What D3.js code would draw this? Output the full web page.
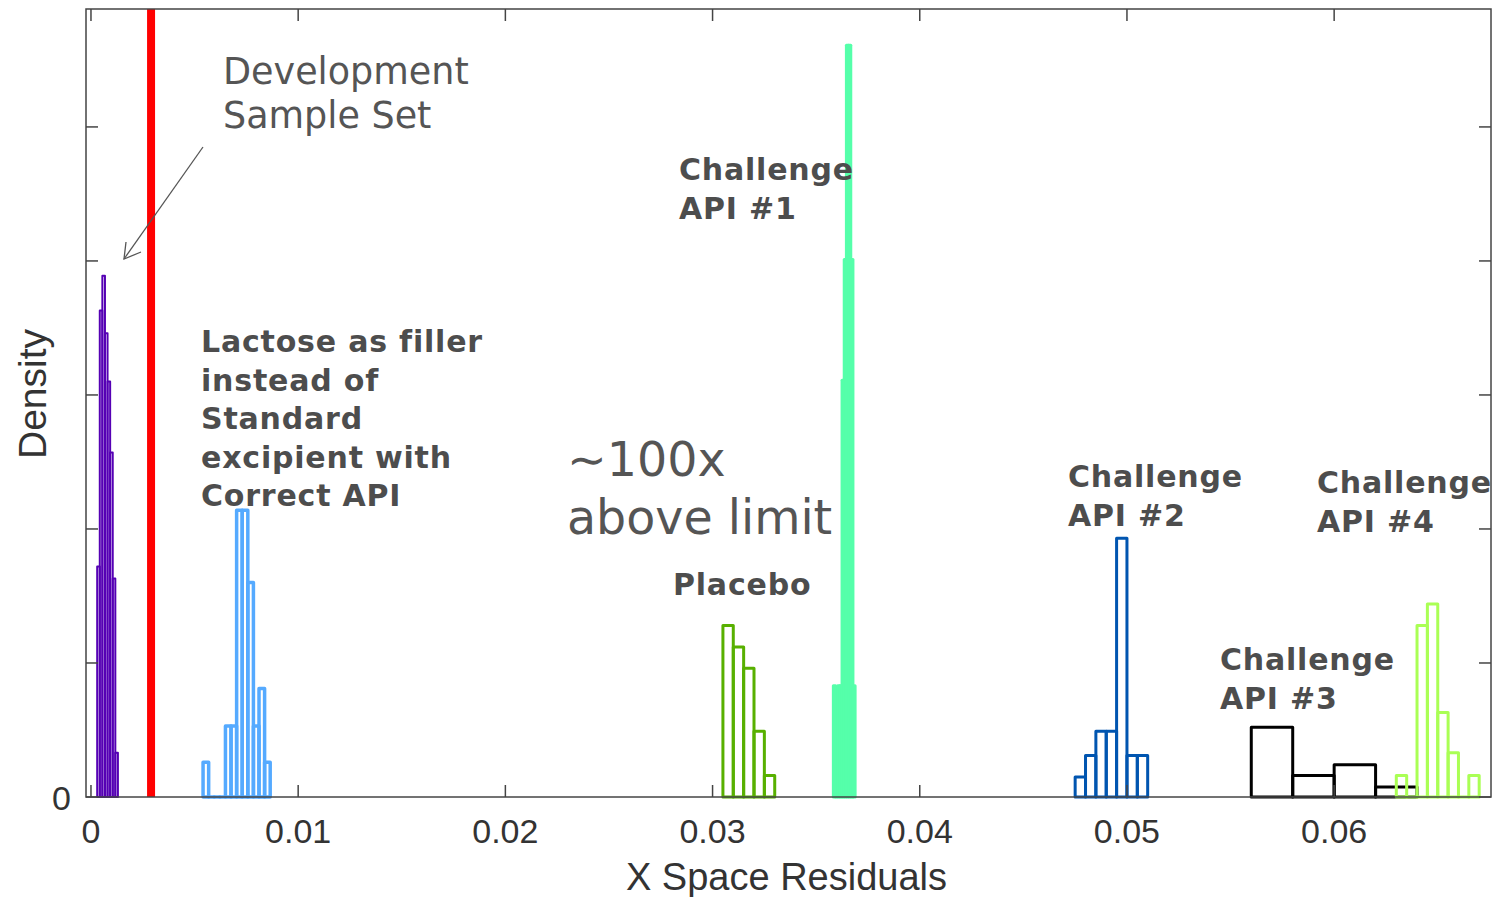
<!DOCTYPE html>
<html>
<head>
<meta charset="utf-8">
<script src="https://cdn.jsdelivr.net/npm/d3@7"></script>
<style>
  body { margin: 0; background: #fff; }
  svg { display: block; }
</style>
</head>
<body>
<script>
// histogram series: first bin edge, bin width, density per bin
const purpleStart = 0.0003, purpleWidth = 0.000125;
const purpleVals = [1.72, 3.63, 3.89, 3.46, 3.10, 2.57, 1.63, 0.33];

const lactoseStart = 0.00541, lactoseWidth = 0.00027;
const lactoseVals = [0.26, 0, 0, 0, 0.53, 0.53, 2.14, 2.14, 1.60, 0.53, 0.81, 0.26];

const placeboStart = 0.0305, placeboWidth = 0.0005;
const placeboVals = [1.28, 1.12, 0.96, 0.49, 0.16];

const api1Start = 0.03583, api1Width = 0.000105;
const api1Vals = [0.83, 0, 0.83, 0.83, 3.11, 4.01, 5.61, 5.61, 4.01, 0.83];

const api2Start = 0.0475, api2Width = 0.0005;
const api2Vals = [0.15, 0.31, 0.49, 0.49, 1.93, 0.31, 0.31];

const api3Start = 0.056, api3Width = 0.002;
const api3Vals = [0.52, 0.16, 0.24, 0.075];

const api4Start = 0.063, api4Width = 0.0005;
const api4Vals = [0.16, 0, 1.28, 1.44, 0.63, 0.33, 0, 0.16];

const limitValue = 0.0029;

const xTicks = [0, 0.01, 0.02, 0.03, 0.04, 0.05, 0.06];
const xTickLabels = ["0", "0.01", "0.02", "0.03", "0.04", "0.05", "0.06"];
const yTicks = [0, 1, 2, 3, 4, 5];

const series = [
  {start: purpleStart, width: purpleWidth, vals: purpleVals, color: "#5500b4", sw: 2},
  {start: lactoseStart, width: lactoseWidth, vals: lactoseVals, color: "#55aaff", sw: 3.5},
  {start: placeboStart, width: placeboWidth, vals: placeboVals, color: "#58b000", sw: 3},
  {start: api1Start, width: api1Width, vals: api1Vals, color: "#55ffaa", sw: 3},
  {start: api2Start, width: api2Width, vals: api2Vals, color: "#0055b0", sw: 3},
  {start: api3Start, width: api3Width, vals: api3Vals, color: "#000000", sw: 3},
  {start: api4Start, width: api4Width, vals: api4Vals, color: "#aaff55", sw: 3}
];

const W = 1497, H = 897;
const mLeft = 86, mRight = 1491, mTop = 9, mBottom = 797;

const x = d3.scaleLinear().domain([-0.00024, 0.06757]).range([mLeft, mRight]);
const y = d3.scaleLinear().domain([0, 5.88]).range([mBottom, mTop]);

const svg = d3.select("body").append("svg")
  .attr("width", W)
  .attr("height", H);

// histograms as bar outlines
series.forEach(s => {
  const bins = s.vals.map((v, i) => ({x0: s.start + i * s.width, x1: s.start + (i + 1) * s.width, v}));
  svg.append("g")
    .attr("fill", "none")
    .attr("stroke", s.color)
    .attr("stroke-width", s.sw)
    .attr("stroke-linejoin", "round")
    .selectAll("path")
    .data(bins)
    .join("path")
    .attr("d", d => `M${x(d.x0)},${y(0)}V${y(d.v)}H${x(d.x1)}V${y(0)}Z`);
});

// limit line
svg.append("line")
  .attr("x1", x(limitValue)).attr("x2", x(limitValue))
  .attr("y1", mTop).attr("y2", mBottom)
  .attr("stroke", "#ff0000")
  .attr("stroke-width", 8);

// axes box with inward ticks
const axisColor = "#444";
const tickLen = 12;
svg.append("rect")
  .attr("x", mLeft).attr("y", mTop)
  .attr("width", mRight - mLeft).attr("height", mBottom - mTop)
  .attr("fill", "none")
  .attr("stroke", axisColor)
  .attr("stroke-width", 1.5);

const ticks = svg.append("g").attr("stroke", axisColor).attr("stroke-width", 1.5);
xTicks.forEach(t => {
  ticks.append("line").attr("x1", x(t)).attr("x2", x(t)).attr("y1", mBottom).attr("y2", mBottom - tickLen);
  ticks.append("line").attr("x1", x(t)).attr("x2", x(t)).attr("y1", mTop).attr("y2", mTop + tickLen);
});
yTicks.forEach(t => {
  ticks.append("line").attr("x1", mLeft).attr("x2", mLeft + tickLen).attr("y1", y(t)).attr("y2", y(t));
  ticks.append("line").attr("x1", mRight).attr("x2", mRight - tickLen).attr("y1", y(t)).attr("y2", y(t));
});

const tickFont = "'Liberation Sans', Arial, sans-serif";
svg.append("g")
  .attr("font-family", tickFont)
  .attr("font-size", 34)
  .attr("fill", "#333")
  .attr("text-anchor", "middle")
  .selectAll("text")
  .data(xTicks)
  .join("text")
  .attr("x", d => x(d))
  .attr("y", 843)
  .text((d, i) => xTickLabels[i]);

svg.append("text")
  .attr("font-family", tickFont)
  .attr("font-size", 34)
  .attr("fill", "#333")
  .attr("text-anchor", "end")
  .attr("x", 71)
  .attr("y", y(0) + 13)
  .text("0");

svg.append("text")
  .attr("font-family", tickFont)
  .attr("font-size", 38)
  .attr("fill", "#333")
  .attr("text-anchor", "middle")
  .attr("x", (mLeft + mRight) / 2 - 2)
  .attr("y", 890)
  .text("X Space Residuals");

svg.append("text")
  .attr("font-family", tickFont)
  .attr("font-size", 39)
  .attr("fill", "#333")
  .attr("text-anchor", "middle")
  .attr("transform", `translate(46,${(mTop + mBottom) / 2 - 9}) rotate(-90)`)
  .text("Density");

// annotations
const noteFont = "'DejaVu Sans', Verdana, sans-serif";
const notes = [
  {x: 679, y: 180, lines: ["Challenge", "API #1"]},
  {x: 201, y: 352, lines: ["Lactose as filler", "instead of", "Standard", "excipient with", "Correct API"]},
  {x: 673, y: 595, lines: ["Placebo"]},
  {x: 1068, y: 487, lines: ["Challenge", "API #2"]},
  {x: 1317, y: 493, lines: ["Challenge", "API #4"]},
  {x: 1220, y: 670, lines: ["Challenge", "API #3"]}
];
notes.forEach(n => {
  const t = svg.append("text")
    .attr("font-family", noteFont)
    .attr("font-size", 30)
    .attr("font-weight", "bold")
    .attr("letter-spacing", 0.8)
    .attr("fill", "#4d4d4d")
    .attr("x", n.x).attr("y", n.y);
  n.lines.forEach((l, i) => t.append("tspan").attr("x", n.x).attr("dy", i ? 38.5 : 0).text(l));
});

const dev = svg.append("text")
  .attr("font-family", noteFont)
  .attr("font-size", 36.5)
  .attr("fill", "#555")
  .attr("x", 223).attr("y", 84);
dev.append("tspan").attr("x", 223).text("Development");
dev.append("tspan").attr("x", 223).attr("dy", 44).text("Sample Set");

const lim = svg.append("text")
  .attr("font-family", noteFont)
  .attr("font-size", 47.5)
  .attr("fill", "#555")
  .attr("x", 567).attr("y", 476);
lim.append("tspan").attr("x", 567).text("∼100x");
lim.append("tspan").attr("x", 567).attr("dy", 58).text("above limit");

// arrow to the development set
svg.append("g")
  .attr("stroke", "#555")
  .attr("stroke-width", 1.3)
  .attr("fill", "none")
  .call(g => g.append("line").attr("x1", 203).attr("y1", 147).attr("x2", 124).attr("y2", 259))
  .call(g => g.append("path").attr("d", "M126,242L124,259L141,252"));
</script>
</body>
</html>
